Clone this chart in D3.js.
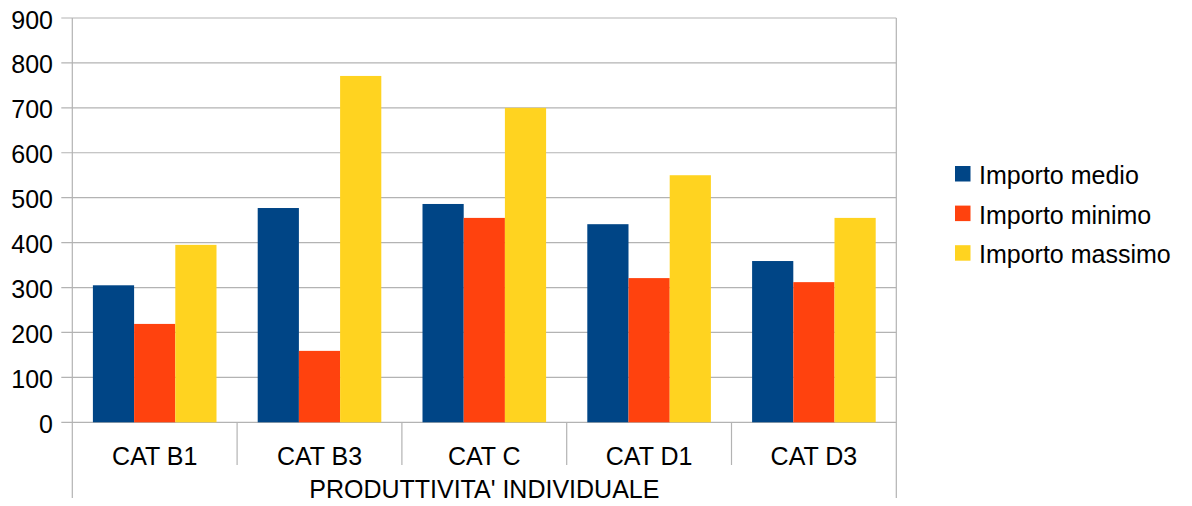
<!DOCTYPE html>
<html>
<head>
<meta charset="utf-8">
<script src="https://cdn.jsdelivr.net/npm/d3@7"></script>
<style>
  body { margin: 0; background: #fff; }
  svg { display: block; font-family: "Liberation Sans", Arial, sans-serif; }
</style>
</head>
<body>
<svg id="chart" width="1192" height="506"></svg>
<script>
// data
var categories = ['CAT B1', 'CAT B3', 'CAT C', 'CAT D1', 'CAT D3'];
var seriesNames = ['Importo medio', 'Importo minimo', 'Importo massimo'];
var importoMedio = [305, 477, 486, 441, 359];
var importoMinimo = [219, 159, 455, 321, 312];
var importoMassimo = [395, 771, 700, 550, 455];
var yTicks = [0, 100, 200, 300, 400, 500, 600, 700, 800, 900];
var axisTitle = "PRODUTTIVITA' INDIVIDUALE";
var colors = ['#004586', '#ff420e', '#ffd320'];

var svg = d3.select('#chart');
var plotLeft = 72.3, plotRight = 896.3, plotTop = 18, plotBottom = 422.3;
var gridColor = '#b3b3b3';
var fontSize = 25;

var x = d3.scaleBand().domain(categories).range([plotLeft, plotRight]);
var xInner = d3.scaleBand().domain(seriesNames).range([0, x.bandwidth()]).paddingOuter(0.5);
var y = d3.scaleLinear().domain([0, 900]).range([plotBottom, plotTop]);

// grid lines + outward ticks
svg.append('g').selectAll('line').data(yTicks).enter()
    .append('line')
    .attr('x1', plotLeft - 11).attr('x2', plotRight)
    .attr('y1', function (d) { return y(d); })
    .attr('y2', function (d) { return y(d); })
    .attr('stroke', gridColor).attr('stroke-width', 1.2);

svg.append('g').selectAll('text').data(yTicks).enter()
    .append('text')
    .attr('x', 53).attr('y', function (d) { return y(d) + 10.5; })
    .attr('text-anchor', 'end')
    .attr('font-size', fontSize).attr('fill', '#000')
    .text(function (d) { return d; });

// frame: left and right lines run down past the category labels
var frameBottom = 498;
svg.append('line').attr('x1', plotLeft).attr('x2', plotLeft).attr('y1', plotTop).attr('y2', frameBottom)
    .attr('stroke', gridColor).attr('stroke-width', 1.2);
svg.append('line').attr('x1', plotRight).attr('x2', plotRight).attr('y1', plotTop).attr('y2', frameBottom)
    .attr('stroke', gridColor).attr('stroke-width', 1.2);

// category separators
var seps = categories.slice(1).map(function (c) { return x(c); });
svg.append('g').selectAll('line').data(seps).enter()
    .append('line')
    .attr('x1', function (d) { return d; }).attr('x2', function (d) { return d; })
    .attr('y1', plotBottom).attr('y2', 465)
    .attr('stroke', gridColor).attr('stroke-width', 1.2);

// bars
var allSeries = [importoMedio, importoMinimo, importoMassimo];
allSeries.forEach(function (vals, si) {
    svg.append('g').selectAll('rect').data(vals).enter()
        .append('rect')
        .attr('x', function (d, i) { return x(categories[i]) + xInner(seriesNames[si]); })
        .attr('width', xInner.bandwidth())
        .attr('y', function (d) { return y(d); })
        .attr('height', function (d) { return y(0) - y(d); })
        .attr('fill', colors[si]);
});

// category labels
svg.append('g').selectAll('text').data(categories).enter()
    .append('text')
    .attr('x', function (d) { return x(d) + x.bandwidth() / 2; })
    .attr('y', 465)
    .attr('text-anchor', 'middle')
    .attr('font-size', fontSize).attr('fill', '#000')
    .text(function (d) { return d; });

svg.append('text')
    .attr('x', (plotLeft + plotRight) / 2).attr('y', 498)
    .attr('text-anchor', 'middle')
    .attr('font-size', fontSize).attr('fill', '#000')
    .text(axisTitle);

// legend
var legend = svg.append('g').selectAll('g').data(seriesNames).enter()
    .append('g')
    .attr('transform', function (d, i) { return 'translate(955,' + (166 + i * 39.6) + ')'; });
legend.append('rect').attr('width', 15.5).attr('height', 15.5)
    .attr('fill', function (d, i) { return colors[i]; });
legend.append('text').attr('x', 24).attr('y', 18)
    .attr('font-size', fontSize).attr('fill', '#000')
    .text(function (d) { return d; });
</script>
</body>
</html>
